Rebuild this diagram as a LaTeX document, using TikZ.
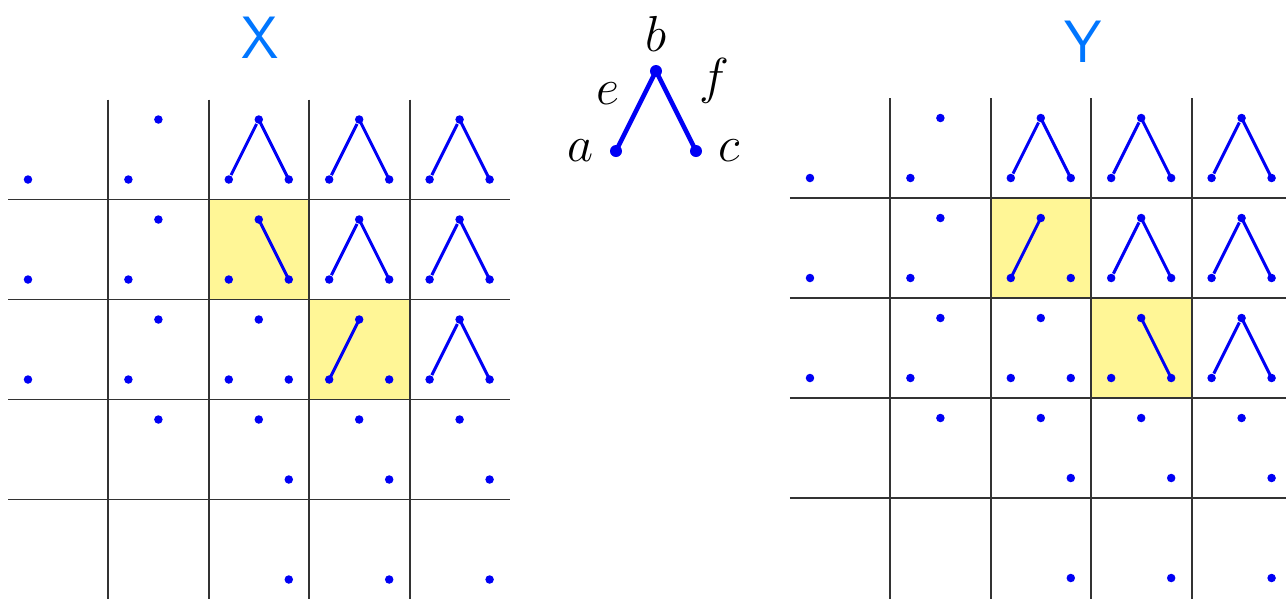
\documentclass[tikz,border=0pt]{standalone}
\usepackage{amsmath}
\usepackage{xcolor}
\usepackage{tikz}
\usetikzlibrary{positioning,calc}

\definecolor{dotblue}{RGB}{0,0,245}
\definecolor{titleblue}{RGB}{0,118,255}
\definecolor{hlyellow}{RGB}{255,246,150}

\begin{document}
\begin{tikzpicture}[x=1cm,y=1cm,
    gridline/.style={line width=0.55pt, black!80},
    dot/.style={circle, fill=dotblue, inner sep=0pt, minimum size=0.085cm},
    edge/.style={line width=0.85pt, dotblue, shorten >=-1pt, shorten <=-1pt},
    hilite/.style={fill=hlyellow},
    keydot/.style={circle, fill=dotblue, inner sep=0pt, minimum size=0.12cm},
    keyedge/.style={line width=1.3pt, dotblue, shorten >=-1pt, shorten <=-1pt},
    title/.style={text=titleblue, font=\sffamily\fontsize{17}{20}\selectfont},
    lbl/.style={inner sep=0pt, font=\fontsize{15}{18}\selectfont}]
  \useasboundingbox (0,0) rectangle (12.86,-5.99);
  \clip (0,0) rectangle (12.86,-5.99);

  % the two grids
  \foreach \gx/\gy/\gw/\pp/\qq/\rr/\ss in {0.08/-0.995/5.02/b/c/a/b, 7.90/-0.98/4.96/a/b/b/c} {
    \fill[hilite] (\gx+2*1.004,\gy-1) rectangle ++(1.004,-1);
    \fill[hilite] (\gx+3*1.004,\gy-2) rectangle ++(1.004,-1);
    \foreach \i in {1,...,4} {
      \draw[gridline] (\gx+\i*1.004,\gy) -- (\gx+\i*1.004,-5.99);
      \draw[gridline] (\gx,\gy-\i) -- (\gx+\gw,\gy-\i);
    }
    \foreach \r in {0,...,4} {
      \foreach \k in {0,...,4} {
        \ifnum\r<3
          \node[dot] (a) at (\gx+\k*1.004+0.2,\gy-\r-0.8) {};
        \fi
        \ifnum\k>0 \ifnum\r<4
          \node[dot] (b) at (\gx+\k*1.004+0.5,\gy-\r-0.2) {};
        \fi\fi
        \ifnum\k>1
          \node[dot] (c) at (\gx+\k*1.004+0.8,\gy-\r-0.8) {};
        \fi
        \ifnum\numexpr\k-\r\relax>1
          \draw[edge] (a) -- (b) -- (c);
        \fi
        \ifnum\r=1 \ifnum\k=2 \draw[edge] (\pp) -- (\qq); \fi\fi
        \ifnum\r=2 \ifnum\k=3 \draw[edge] (\rr) -- (\ss); \fi\fi
      }
    }
  }

  % titles
  \node[title] (tx) at (2.60,-0.38) {X};
  \node[title] (ty) at (10.83,-0.42) {Y};

  % key
  \node[keydot] (kb) at (6.56,-0.71) {};
  \node[keydot] (ka) at (6.16,-1.51) {};
  \node[keydot] (kc) at (6.96,-1.51) {};
  \draw[keyedge] (ka) -- (kb);
  \draw[keyedge] (kb) -- (kc);
  \node[lbl, left=0.15cm of ka] (la) {$a$};
  \node[lbl, above=0.12cm of kb] (lb) {$b$};
  \node[lbl, right=0.15cm of kc] (lc) {$c$};
  \node[lbl] (le) at ($(ka)!0.5!(kb)+(-0.28,0.17)$) {$e$};
  \node[lbl] (lf) at ($(kb)!0.5!(kc)+(0.38,0.30)$) {$f$};
\end{tikzpicture}
\end{document}
